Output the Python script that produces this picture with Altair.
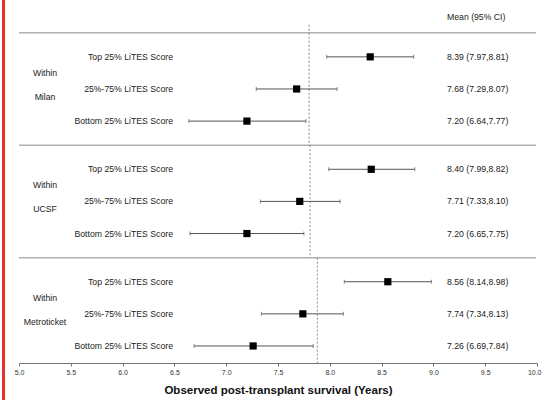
import altair as alt
import pandas as pd

groups = ["Milan", "UCSF", "Metroticket"]
row_labels = ["Top 25% LiTES Score", "25%-75% LiTES Score", "Bottom 25% LiTES Score"]
means = [8.39, 7.68, 7.20, 8.40, 7.71, 7.20, 8.56, 7.74, 7.26]
lowers = [7.97, 7.29, 6.64, 7.99, 7.33, 6.65, 8.14, 7.34, 6.69]
uppers = [8.81, 8.07, 7.77, 8.82, 8.10, 7.75, 8.98, 8.13, 7.84]
ref_lines = [7.80, 7.81, 7.88]
header_text = "Mean (95% CI)"
axis_title = "Observed post-transplant survival (Years)"
x_ticks = [5.0 + 0.25 * k for k in range(21)]

GSTEP = 3.5
FONT = "Liberation Sans"
FS = 8.7

rows = []
for gi, g in enumerate(groups):
    for ri, lab in enumerate(row_labels):
        k = gi * 3 + ri
        rows.append({
            "group": g, "label": lab, "pos": gi * GSTEP + ri,
            "mean": means[k], "lo": lowers[k], "hi": uppers[k],
            "ci": f"{means[k]:.2f} ({lowers[k]:.2f},{uppers[k]:.2f})",
        })
df = pd.DataFrame(rows)

grp_rows = []
for gi, g in enumerate(groups):
    grp_rows.append({"text": "Within", "pos": gi * GSTEP + 0.5})
    grp_rows.append({"text": g, "pos": gi * GSTEP + 1.25})
gdf = pd.DataFrame(grp_rows)

sep_df = pd.DataFrame({"pos": [gi * GSTEP - 0.75 for gi in range(len(groups))]})
ref_df = pd.DataFrame({
    "x": ref_lines,
    "y1": [-1.0, 2.75, 6.25],
    "y2": [2.75, 6.25, 9.53],
})
head_df = pd.DataFrame({"text": [header_text], "pos": [-1.25]})

yscale = alt.Scale(domain=[-1.77, 9.53], reverse=True, nice=False, zero=False)
xscale = alt.Scale(domain=[5, 10], nice=False, zero=False)

base = alt.Chart(df)

xaxis = alt.Axis(
    values=x_ticks,
    labelExpr="datum.value % 0.5 == 0 ? format(datum.value, '.1f') : ''",
    labelFlush=False, labelOverlap=False,
    labelAlign=alt.ExprRef(expr="datum.value >= 10 ? 'right' : 'center'"),
    labelOffset=alt.ExprRef(expr="datum.value >= 10 ? 4 : 0"),
    tickSize=3, tickColor="#777", domainColor="#777", domainWidth=1,
    labelFontSize=7, labelColor="#333", labelPadding=2, labelFont=FONT,
    grid=False, title=axis_title, titleFontSize=11.5, titleFontWeight="bold",
    titleFont=FONT, titleColor="#111", titlePadding=9,
)

border = alt.Chart(head_df).mark_rule(color="#e8312f", strokeWidth=3).encode(
    x=alt.value(-15.5), y=alt.value(-5), y2=alt.value(405)
)

seps = alt.Chart(sep_df).mark_rule(color="#b0b0b0", strokeWidth=1.5).encode(
    x=alt.value(0), x2=alt.value(517),
    y=alt.Y("pos:Q", scale=yscale, axis=None),
)

refs = alt.Chart(ref_df).mark_rule(color="#888", strokeWidth=1, strokeDash=[2, 2]).encode(
    x=alt.X("x:Q", scale=xscale, axis=xaxis),
    y=alt.Y("y1:Q", scale=yscale, axis=None),
    y2="y2:Q",
)

whisk = base.mark_rule(color="#555", strokeWidth=1).encode(
    x=alt.X("lo:Q", scale=xscale, axis=xaxis),
    x2="hi:Q",
    y=alt.Y("pos:Q", scale=yscale, axis=None),
)
cap_lo = base.mark_tick(color="#555", thickness=1, size=4, orient="vertical").encode(
    x=alt.X("lo:Q", scale=xscale), y=alt.Y("pos:Q", scale=yscale, axis=None)
)
cap_hi = base.mark_tick(color="#555", thickness=1, size=4, orient="vertical").encode(
    x=alt.X("hi:Q", scale=xscale), y=alt.Y("pos:Q", scale=yscale, axis=None)
)
pts = base.mark_square(size=52, color="black", opacity=1).encode(
    x=alt.X("mean:Q", scale=xscale), y=alt.Y("pos:Q", scale=yscale, axis=None)
)

lab = base.mark_text(align="right", baseline="middle", fontSize=FS, font=FONT, color="#222").encode(
    x=alt.value(154), y=alt.Y("pos:Q", scale=yscale, axis=None), text="label:N"
)
ci = base.mark_text(align="left", baseline="middle", fontSize=FS, font=FONT, color="#222").encode(
    x=alt.value(428), y=alt.Y("pos:Q", scale=yscale, axis=None), text="ci:N"
)
glab = alt.Chart(gdf).mark_text(align="center", baseline="middle", fontSize=FS, font=FONT, color="#222").encode(
    x=alt.value(26), y=alt.Y("pos:Q", scale=yscale, axis=None), text="text:N"
)
head = alt.Chart(head_df).mark_text(align="left", baseline="middle", fontSize=FS, font=FONT, color="#222").encode(
    x=alt.value(428), y=alt.Y("pos:Q", scale=yscale, axis=None), text="text:N"
)

chart = alt.layer(
    seps, refs, whisk, cap_lo, cap_hi, pts, lab, ci, glab, head, border
).properties(
    width=518, height=363,
    autosize=alt.AutoSizeParams(type="none"),
    padding={"left": 19, "top": 0, "right": 5, "bottom": 37},
    background="white",
).configure_view(stroke=None)

chart.save("out.html", embed_options={"renderer": "svg", "actions": False})
